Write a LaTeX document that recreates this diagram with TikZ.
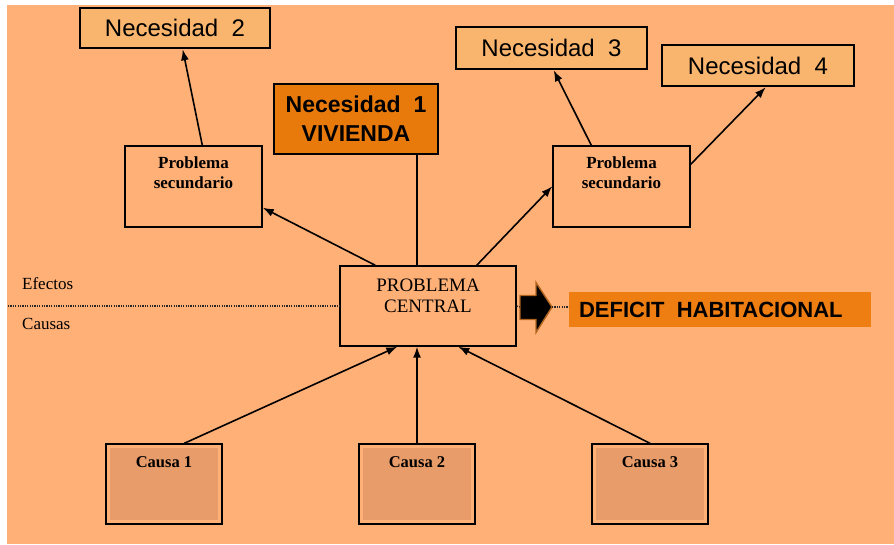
\documentclass[tikz,border=0pt]{standalone}
\usepackage{fontspec}
\setmainfont{Liberation Serif}
\newfontfamily\arialfont{Liberation Sans}
\usetikzlibrary{arrows.meta,calc}
\definecolor{bgc}{HTML}{FFB077}
\definecolor{necc}{HTML}{F9B56E}
\definecolor{nec1c}{HTML}{E87A0C}
\definecolor{defc}{HTML}{EF7E12}
\definecolor{causac}{HTML}{E89C6A}
\definecolor{arrowedge}{HTML}{B0641E}
\tikzset{
  necbox/.style={draw=black, line width=2.6pt, fill=necc, inner sep=0pt, font=\arialfont\fontsize{24}{28}\selectfont},
  nec1box/.style={draw=black, line width=2.6pt, fill=nec1c, inner sep=0pt, align=center, font=\arialfont\bfseries\fontsize{23}{29}\selectfont},
  secbox/.style={draw=black, line width=1.4pt, inner sep=0pt, minimum width=137pt, minimum height=81pt},
  sectext/.style={font=\bfseries\fontsize{17}{20}\selectfont, align=center, inner sep=0pt},
  cenbox/.style={draw=black, line width=1.4pt, inner sep=0pt, minimum width=176pt, minimum height=80pt},
  centext/.style={font=\fontsize{19}{21}\selectfont, align=center, inner sep=0pt},
  causabox/.style={draw=black, line width=1.4pt, fill=bgc, inner sep=0pt, minimum width=116pt, minimum height=80pt},
  causatext/.style={font=\bfseries\fontsize{16.5}{18}\selectfont, inner sep=0pt},
  sidetext/.style={font=\fontsize{17}{18}\selectfont, anchor=west, inner sep=0pt},
  conn/.style={line width=1.6pt, -{Latex[length=11pt,width=8pt]}},
  plainconn/.style={line width=1.4pt},
  dotline/.style={line width=1.2pt, dash pattern=on 1.2pt off 1.2pt, black!85},
  blockarrow/.style={draw=arrowedge, line width=1.4pt, fill=black, line join=miter},
}
\begin{document}
\begin{tikzpicture}[x=1pt,y=-1pt]
\useasboundingbox (0,0) rectangle (894,544);
\fill[bgc] (7,5) rectangle (894,544);

% Necesidades
\node[necbox, minimum width=190pt, minimum height=40pt] (nec2) at (175,28) {Necesidad\ \ 2};
\node[nec1box, minimum width=164pt, minimum height=70pt] (nec1) at (356,119) {Necesidad\ \ 1\\VIVIENDA};
\node[necbox, minimum width=191pt, minimum height=42pt] (nec3) at (551.5,48) {Necesidad\ \ 3};
\node[necbox, minimum width=192pt, minimum height=41pt] (nec4) at (758,65.5) {Necesidad\ \ 4};

% Problemas secundarios
\node[secbox] (secL) at (193.5,186.5) {};
\node[sectext, anchor=north] (secLt) at ([yshift=-11pt]secL.north) {Problema\\secundario};
\node[secbox] (secR) at (621.5,186.5) {};
\node[sectext, anchor=north] (secRt) at ([yshift=-11pt]secR.north) {Problema\\secundario};

% Problema central
\node[cenbox] (cen) at (428,306) {};
\node[centext, anchor=north] (cent) at ([yshift=-13pt]cen.north) {PROBLEMA\\CENTRAL};

% Efectos / Causas
\node[sidetext] (efectos) at (22,284) {Efectos};
\node[sidetext] (causas) at (22,324) {Causas};
\coordinate (leftend) at (8,306);

% Big arrow and deficit
\coordinate (arrtail) at (520,307);
\coordinate (arrtip) at (552,307);
\draw[blockarrow] ($(arrtail)+(0,-11.5)$) -- ++(16,0) -- ++(0,-13) -- (arrtip)
   -- ($(arrtail)+(16,25.5)$) -- ++(0,-13) -- ++(-16,0) -- cycle;
\node[fill=defc, minimum width=302pt, minimum height=35pt, inner sep=0pt] (def) at (720,309.5) {};
\node[anchor=west, inner sep=0pt, font=\arialfont\bfseries\fontsize{22}{24}\selectfont]
  (deft) at ([xshift=10pt]def.west) {DEFICIT\ \ HABITACIONAL};

% Causas
\node[causabox] (c1) at (164,484) {};
\node[causabox] (c2) at (417,484) {};
\node[causabox] (c3) at (650,484) {};
\foreach \c in {c1,c2,c3}{
  \fill[causac] ([shift={(5,5)}]\c.north west) rectangle ([shift={(-5,-5)}]\c.south east);
}
\node[causatext, anchor=north] (c1t) at ([yshift=-13pt]c1.north) {Causa 1};
\node[causatext, anchor=north] (c2t) at ([yshift=-13pt]c2.north) {Causa 2};
\node[causatext, anchor=north] (c3t) at ([yshift=-13pt]c3.north) {Causa 3};

% Dotted lines
\draw[dotline] (leftend) -- (cen.west);
\draw[dotline] (cen.east) -- (arrtail);
\draw[dotline] (arrtip) -- (arrtip -| def.west);

% Connectors
\draw[conn] ([xshift=36pt]cen.north west) -- ([yshift=20pt]secL.south east);
\draw[plainconn] ([xshift=-11pt]cen.north) -- ([xshift=61pt]nec1.south);
\draw[conn] ([xshift=-40pt]cen.north east) -- ([yshift=-41pt]secR.north west);
\draw[conn] ([xshift=78pt]secL.north west) -- ([xshift=104pt]nec2.south west);
\draw[conn] ([xshift=39pt]secR.north west) -- ([xshift=99pt]nec3.south west);
\draw[conn] ([yshift=-19pt]secR.north east) -- ([xshift=105pt]nec4.south west);
\draw[conn] ([xshift=79pt]c1.north west) -- ([xshift=58pt]cen.south west);
\draw[conn] (c2.north) -- (c2.north |- cen.south);
\draw[conn] (c3.north) -- ([xshift=119pt]cen.south west);
\end{tikzpicture}
\end{document}
